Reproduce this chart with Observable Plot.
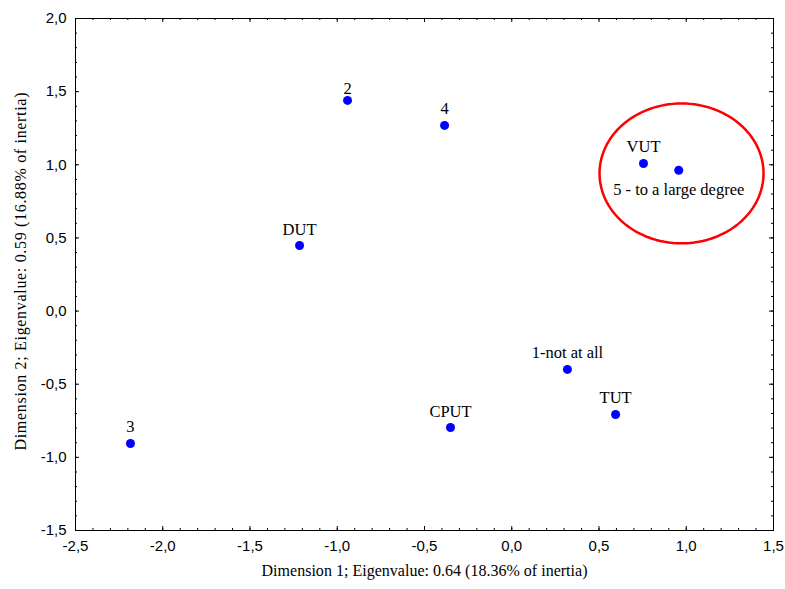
<!DOCTYPE html>
<html>
<head>
<meta charset="utf-8">
<script src="https://cdn.jsdelivr.net/npm/d3@7"></script>
<script src="https://cdn.jsdelivr.net/npm/@observablehq/plot@0.6"></script>
<style>
  body { margin: 0; background: #fff; }
  #chart svg { display: block; }
</style>
</head>
<body>
<div id="chart"></div>
<script>
// Data
const labels = ["2", "4", "VUT", "5 - to a large degree", "DUT", "1-not at all", "TUT", "CPUT", "3"];
const dim1 = [-0.941, -0.385, 0.755, 0.957, -1.216, 0.319, 0.595, -0.351, -2.185];
const dim2 = [1.44, 1.269, 1.009, 0.963, 0.448, -0.399, -0.707, -0.796, -0.905];

const xTicks = [-2.5, -2.0, -1.5, -1.0, -0.5, 0.0, 0.5, 1.0, 1.5];
const yTicks = [-1.5, -1.0, -0.5, 0.0, 0.5, 1.0, 1.5, 2.0];
const xMinor = d3.range(-25, 16).map(d => d / 10);
const yMinor = d3.range(-15, 21).map(d => d / 10);

const xTitle = "Dimension 1; Eigenvalue: 0.64 (18.36% of inertia)";
const yTitle = "Dimension 2; Eigenvalue: 0.59 (16.88% of inertia)";

// highlight ellipse (data units)
const ellipseCenter = [0.973, 0.941];
const ellipseRadii = [0.470, 0.478];

const points = labels.map((l, i) => ({label: l, x: dim1[i], y: dim2[i]}));
const ellipse = d3.range(0, 361, 3).map(a => {
  const t = a * Math.PI / 180;
  return {x: ellipseCenter[0] + ellipseRadii[0] * Math.cos(t), y: ellipseCenter[1] + ellipseRadii[1] * Math.sin(t)};
});

const fmt = d => d.toFixed(1).replace(".", ",");
const W = 785, H = 589, mL = 75, mR = 12, mT = 18, mB = 59;
const pw = W - mL - mR, ph = H - mT - mB;
const serif = "'Liberation Serif', 'Times New Roman', serif";
const sans = "'Liberation Sans', Arial, sans-serif";

const below = new Set(["5 - to a large degree"]);
const close = new Set(["2"]);
const labelFont = 16.5;

const chart = Plot.plot({
  width: W, height: H,
  marginLeft: mL, marginRight: mR, marginTop: mT, marginBottom: mB,
  style: {fontFamily: sans, fontSize: "15px", background: "#fff", color: "#000"},
  x: {domain: [-2.5, 1.5], label: null},
  y: {domain: [-1.5, 2.0], label: null},
  marks: [
    // minor ticks (inward) on all sides
    Plot.tickX(xMinor, {x: d => d, stroke: "#000", insetTop: ph - 2}),
    Plot.tickX(xMinor, {x: d => d, stroke: "#000", insetBottom: ph - 2}),
    Plot.tickY(yMinor, {y: d => d, stroke: "#000", insetRight: pw - 2}),
    Plot.tickY(yMinor, {y: d => d, stroke: "#000", insetLeft: pw - 2}),
    // major ticks
    Plot.tickX(xTicks, {x: d => d, stroke: "#000", insetTop: ph - 4}),
    Plot.tickX(xTicks, {x: d => d, stroke: "#000", insetBottom: ph - 4}),
    Plot.tickY(yTicks, {y: d => d, stroke: "#000", insetRight: pw - 4}),
    Plot.tickY(yTicks, {y: d => d, stroke: "#000", insetLeft: pw - 4}),
    Plot.frame({stroke: "#000", strokeWidth: 1}),
    Plot.axisX({ticks: xTicks, tickSize: 0, tickPadding: 10, tickFormat: fmt, fontSize: 15, fontFamily: sans}),
    Plot.axisY({ticks: yTicks, tickSize: 0, tickPadding: 9, tickFormat: fmt, fontSize: 15, fontFamily: sans}),
    // ellipse highlight
    Plot.line(ellipse, {x: "x", y: "y", stroke: "#ff0000", strokeWidth: 2.5, curve: "linear"}),
    // points
    Plot.dot(points, {x: "x", y: "y", r: 4.5, fill: "#0000ff", stroke: "none"}),
    Plot.text(points.filter(p => !below.has(p.label) && !close.has(p.label)), {
      x: "x", y: "y", text: "label", dy: -11, lineAnchor: "bottom",
      fontFamily: serif, fontSize: labelFont, fill: "#000"
    }),
    Plot.text(points.filter(p => close.has(p.label)), {
      x: "x", y: "y", text: "label", dy: -6, lineAnchor: "bottom",
      fontFamily: serif, fontSize: labelFont, fill: "#000"
    }),
    Plot.text(points.filter(p => below.has(p.label)), {
      x: "x", y: "y", text: "label", dy: 25, lineAnchor: "bottom",
      fontFamily: serif, fontSize: labelFont, fill: "#000"
    }),
    // axis titles
    Plot.text([xTitle], {frameAnchor: "bottom", textAnchor: "middle", dy: 45, lineAnchor: "bottom", text: d => d, fontFamily: serif, fontSize: 16, fill: "#000", className: "xtitle"}),
    Plot.text([yTitle], {frameAnchor: "left", textAnchor: "middle", dx: -55, dy: -3, rotate: -90, text: d => d, fontFamily: serif, fontSize: 16, fill: "#000", className: "ytitle"})
  ]
});
document.getElementById("chart").appendChild(chart);
// match the reference's title widths
d3.select(chart).selectAll(".xtitle text").attr("textLength", 326).attr("lengthAdjust", "spacing");
d3.select(chart).selectAll(".ytitle text").attr("textLength", 358).attr("lengthAdjust", "spacing");
</script>
</body>
</html>
